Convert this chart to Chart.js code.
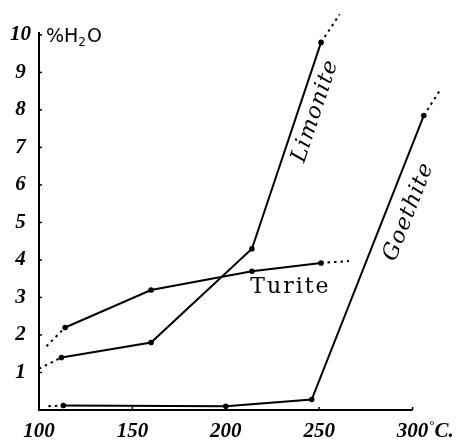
<!DOCTYPE html>
<html>
<head>
<meta charset="utf-8">
<script src="https://cdn.jsdelivr.net/npm/chart.js@4/dist/chart.umd.min.js"></script>
<style>
html,body{margin:0;padding:0;background:#fff;}
#wrap{width:463px;height:442px;position:relative;}
</style>
</head>
<body>
<div id="wrap"><canvas id="c" width="463" height="442"></canvas></div>
<script>
// ---- data ----
const xTickValues = [100, 150, 200, 250, 300];
const yTickValues = [1, 2, 3, 4, 5, 6, 7, 8, 9, 10];

const limoniteX = [100, 112, 160, 214, 251, 261];
const limoniteY = [1.1, 1.4, 1.8, 4.3, 9.8, 10.55];
const limoniteExtrapolated = [true, false, false, false, false, true];

const turiteX = [104, 114, 160, 214, 251, 266];
const turiteY = [1.7, 2.2, 3.2, 3.7, 3.92, 3.97];
const turiteExtrapolated = [true, false, false, false, false, true];

const goethiteX = [105, 113, 200, 246, 306, 315];
const goethiteY = [0.1, 0.12, 0.1, 0.28, 7.85, 8.55];
const goethiteExtrapolated = [true, false, false, false, false, true];

const seriesNames = ['Limonite', 'Turite', 'Goethite'];
const labelX = [248, 234.6, 298];
const labelY = [7.97, 3.28, 5.28];

const yTitleText = ['%H', '2', 'O'];
const xUnitText = ['°', 'C.'];

function pts(xs, ys) { return xs.map((x, i) => ({x: x, y: ys[i]})); }
function radii(flags) { return flags.map(f => f ? 0 : 2.8); }
function dashSeg(flags) {
  return ctx => (flags[ctx.p0DataIndex] || flags[ctx.p1DataIndex]) ? [2.5, 4] : undefined;
}
function ds(name, xs, ys, flags) {
  return {
    label: name,
    data: pts(xs, ys),
    borderColor: '#000',
    backgroundColor: '#000',
    borderWidth: 2,
    pointRadius: radii(flags),
    pointBorderWidth: 0,
    pointBackgroundColor: '#000',
    tension: 0,
    clip: false,
    showLine: true,
    segment: {borderDash: dashSeg(flags)}
  };
}

const tickFont = {family: '"Liberation Serif"', size: 21, style: 'italic', weight: 'bold'};

const decor = {
  id: 'decor',
  beforeDatasetsDraw(chart) {
    const c = chart.ctx, xs = chart.scales.x, ys = chart.scales.y;
    c.save();
    c.strokeStyle = '#000';
    c.lineWidth = 2;
    c.beginPath();
    c.moveTo(xs.getPixelForValue(100), ys.getPixelForValue(10) - 3);
    c.lineTo(xs.getPixelForValue(100), ys.getPixelForValue(0));
    c.lineTo(xs.getPixelForValue(300), ys.getPixelForValue(0));
    c.stroke();
    c.lineWidth = 1.5;
    yTickValues.forEach(v => {
      const y = ys.getPixelForValue(v);
      const x = xs.getPixelForValue(100);
      c.beginPath(); c.moveTo(x, y); c.lineTo(x + 3, y); c.stroke();
    });
    xTickValues.forEach(v => {
      const x = xs.getPixelForValue(v);
      const y = ys.getPixelForValue(0);
      c.beginPath(); c.moveTo(x, y); c.lineTo(x, y - 3); c.stroke();
    });
    c.restore();
  },
  afterDraw(chart) {
    const c = chart.ctx, xs = chart.scales.x, ys = chart.scales.y;
    c.save();
    c.fillStyle = '#000';
    // y title %H2O
    const tx = xs.getPixelForValue(100) + 7;
    const ty = ys.getPixelForValue(10) + 7;
    c.font = '19px "DejaVu Sans"';
    c.textBaseline = 'alphabetic';
    c.textAlign = 'left';
    const w = c.measureText(yTitleText[0]).width;
    c.fillText(yTitleText[0], tx, ty);
    c.font = '12px "DejaVu Sans"';
    c.fillText(yTitleText[1], tx + w, ty + 4);
    const w2 = c.measureText(yTitleText[1]).width;
    c.font = '19px "DejaVu Sans"';
    c.fillText(yTitleText[2], tx + w + w2 + 1, ty);
    // unit after last x tick label
    c.font = 'italic bold 21px "Liberation Serif"';
    const last = xTickValues[xTickValues.length - 1];
    const lw = c.measureText(String(last)).width;
    const ux = xs.getPixelForValue(last) + lw / 2 + 1;
    const uy = ys.getPixelForValue(0) + 27;
    c.textBaseline = 'alphabetic';
    c.font = 'bold 13px "Liberation Serif"';
    c.fillText(xUnitText[0], ux, uy - 8);
    const dw = c.measureText(xUnitText[0]).width;
    c.font = 'italic bold 21px "Liberation Serif"';
    c.fillText(xUnitText[1], ux + dw, uy);
    // series labels
    const angles = [];
    [[limoniteX, limoniteY], [turiteX, turiteY], [goethiteX, goethiteY]].forEach(s => {
      const dx = xs.getPixelForValue(s[0][4]) - xs.getPixelForValue(s[0][3]);
      const dy = ys.getPixelForValue(s[1][4]) - ys.getPixelForValue(s[1][3]);
      angles.push(Math.atan2(dy, dx));
    });
    seriesNames.forEach((n, i) => {
      const px = xs.getPixelForValue(labelX[i]);
      const py = ys.getPixelForValue(labelY[i]);
      c.save();
      c.translate(px, py);
      if (i === 1) {
        c.font = '22px "DejaVu Serif"';
        c.letterSpacing = '2px';
      } else {
        c.rotate(angles[i]);
        c.font = 'italic 22px "DejaVu Serif"';
        c.letterSpacing = '1px';
      }
      c.textAlign = 'center';
      c.textBaseline = 'middle';
      c.fillText(n, 0, 0);
      c.restore();
    });
    c.restore();
  }
};

new Chart(document.getElementById('c'), {
  type: 'scatter',
  data: {
    datasets: [
      ds(seriesNames[0], limoniteX, limoniteY, limoniteExtrapolated),
      ds(seriesNames[1], turiteX, turiteY, turiteExtrapolated),
      ds(seriesNames[2], goethiteX, goethiteY, goethiteExtrapolated)
    ]
  },
  options: {
    responsive: false,
    animation: false,
    devicePixelRatio: 1,
    layout: {padding: 0},
    plugins: {legend: {display: false}, tooltip: {enabled: false}},
    scales: {
      x: {
        type: 'linear',
        min: 100,
        max: 327,
        grid: {display: false, drawTicks: false},
        border: {display: false},
        ticks: {font: tickFont, color: '#000', padding: 9, maxRotation: 0, autoSkip: false},
        afterBuildTicks: s => { s.ticks = xTickValues.map(v => ({value: v})); },
        afterFit: s => { s.height = 32; s.paddingLeft = 0; s.paddingRight = 0; }
      },
      y: {
        type: 'linear',
        min: 0,
        max: 10.93,
        grid: {display: false, drawTicks: false},
        border: {display: false},
        ticks: {font: tickFont, color: '#000', padding: 8, crossAlign: 'center', autoSkip: false},
        afterBuildTicks: s => { s.ticks = yTickValues.map(v => ({value: v})); },
        afterFit: s => { s.width = 39; s.paddingTop = 0; s.paddingBottom = 0; }
      }
    }
  },
  plugins: [decor]
});
</script>
</body>
</html>
